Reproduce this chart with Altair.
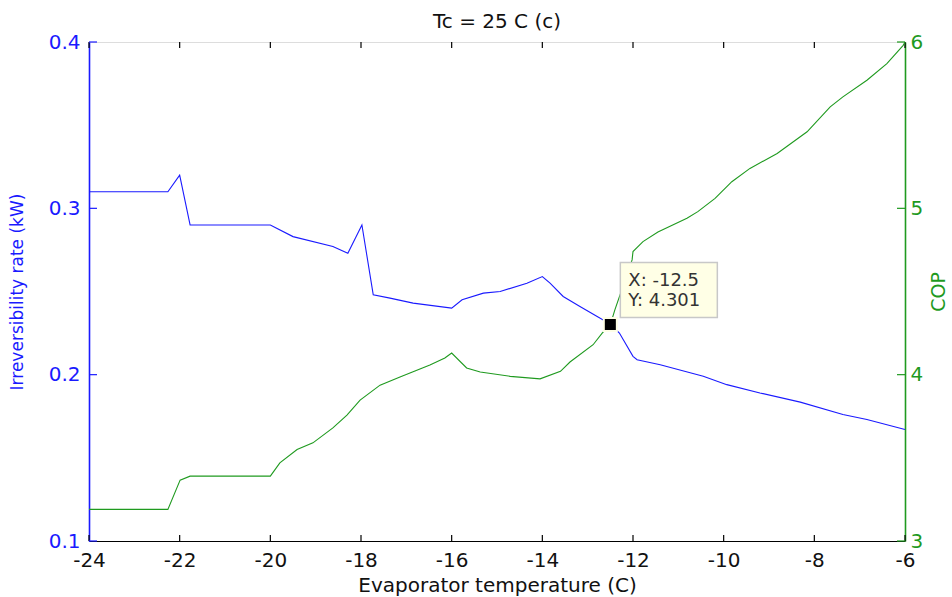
import altair as alt
import pandas as pd

# ---- data ----
blue_x = [-24.0, -22.26, -22.0, -21.77, -20.0, -19.5, -18.62, -18.29, -17.98, -17.73,
          -17.36, -16.85, -16.0, -15.77, -15.3, -14.93, -14.34, -14.0, -13.83, -13.54,
          -13.17, -12.79, -12.5, -12.3, -12.0, -11.91, -11.4, -10.45, -9.93, -9.2,
          -8.31, -7.37, -6.84, -6.0]
blue_y = [0.31, 0.31, 0.32, 0.29, 0.29, 0.283, 0.277, 0.273, 0.29, 0.248,
          0.246, 0.243, 0.24, 0.245, 0.249, 0.250, 0.255, 0.259, 0.255, 0.247,
          0.241, 0.235, 0.2304, 0.225, 0.211, 0.209, 0.206, 0.199, 0.194, 0.189,
          0.1835, 0.176, 0.173, 0.167]

green_x = [-24.0, -22.26, -21.99, -21.77, -20.0, -19.79, -19.41, -19.06, -18.62, -18.31,
           -18.02, -17.58, -17.14, -16.48, -16.15, -16.0, -15.67, -15.37, -14.71, -14.05,
           -13.6, -13.39, -12.88, -12.68, -12.5, -12.4, -12.02, -12.0, -11.78, -11.45,
           -10.81, -10.57, -10.19, -9.82, -9.42, -8.82, -8.16, -7.65, -7.37, -6.84,
           -6.4, -6.04, -6.0]
green_y = [3.19, 3.19, 3.366, 3.39, 3.39, 3.47, 3.55, 3.59, 3.68, 3.757,
           3.847, 3.937, 3.986, 4.058, 4.1, 4.13, 4.04, 4.016, 3.99, 3.975,
           4.02, 4.076, 4.18, 4.25, 4.301, 4.39, 4.69, 4.74, 4.8, 4.858,
           4.94, 4.98, 5.06, 5.16, 5.24, 5.33, 5.46, 5.61, 5.67, 5.77,
           5.87, 5.98, 6.0]

x_ticks = [-24, -22, -20, -18, -16, -14, -12, -10, -8, -6]
left_ticks = [0.1, 0.2, 0.3, 0.4]
right_ticks = [3, 4, 5, 6]

tip_x = [-12.5]
tip_y = [4.301]
tip_label_x = ["X: -12.5"]
tip_label_y = ["Y: 4.301"]

BLUE = "#1a1aff"
GREEN = "#1f9a1f"
FONT = "DejaVu Sans"
W, H = 816, 499

blue_df = pd.DataFrame({"T": blue_x, "I": blue_y})
green_df = pd.DataFrame({"T": green_x, "COP": green_y})
xt_df = pd.DataFrame({"T": x_ticks})
lt_df = pd.DataFrame({"I": left_ticks})
rt_df = pd.DataFrame({"COP": right_ticks})
tip_df = pd.DataFrame({"T": tip_x, "COP": tip_y, "lx": tip_label_x, "ly": tip_label_y})

xscale = alt.Scale(domain=[-24, -6], nice=False, zero=False)
lscale = alt.Scale(domain=[0.1, 0.4], nice=False, zero=False)
rscale = alt.Scale(domain=[3, 6], nice=False, zero=False)

x_axis = alt.Axis(title="Evaporator temperature (C)", values=x_ticks,
                  labelExpr="replace(datum.label, '\u2212', '-')",
                  tickSize=0, labelPadding=9, titlePadding=5,
                  grid=False, domainColor="black", domainWidth=1.2,
                  labelColor="#111111", labelFont=FONT, labelFontSize=20,
                  titleFont=FONT, titleFontSize=20, titleFontWeight="normal",
                  titleColor="#111111", labelFlush=False)

left_axis = alt.Axis(title="Irreversibility rate (kW)", values=left_ticks,
                     format=".1f", tickSize=0, labelPadding=9, titlePadding=22,
                     grid=False, domainColor=BLUE, domainWidth=1.6,
                     labelColor=BLUE, titleColor=BLUE, labelFont=FONT,
                     labelFontSize=20, titleFont=FONT, titleFontSize=17,
                     titleFontWeight="normal", labelFlush=False)

right_axis = alt.Axis(title="COP", orient="right", values=right_ticks,
                      tickSize=0, labelPadding=5, titlePadding=26, titleAngle=-90,
                      titleBaseline="bottom",
                      grid=False, domainColor=GREEN, domainWidth=1.6,
                      labelColor=GREEN, titleColor=GREEN, labelFont=FONT,
                      labelFontSize=20, titleFont=FONT, titleFontSize=19,
                      titleFontWeight="normal", labelFlush=False)

XE = alt.X("T:Q", scale=xscale, axis=x_axis)
YL = alt.Y("I:Q", scale=lscale, axis=left_axis)
YR = alt.Y("COP:Q", scale=rscale, axis=right_axis)

blue_line = alt.Chart(blue_df).mark_line(color=BLUE, strokeWidth=1.1).encode(x=XE, y=YL)

left_tick_marks = alt.Chart(lt_df).mark_rule(color=BLUE, strokeWidth=1.2).encode(
    y=YL, x=alt.value(0), x2=alt.value(8),
)

left = alt.layer(blue_line, left_tick_marks)

green_line = alt.Chart(green_df).mark_line(color=GREEN, strokeWidth=1.1).encode(x=XE, y=YR)

right_tick_marks = alt.Chart(rt_df).mark_rule(color=GREEN, strokeWidth=1.2).encode(
    y=YR, x=alt.value(W - 8), x2=alt.value(W),
)

tip_box = alt.Chart(tip_df).mark_rect(
    fill="#ffffe6", stroke="#c8c8c8", strokeWidth=1.5,
    xOffset=10, x2Offset=107, yOffset=-62, y2Offset=-7,
).encode(x=XE, x2="T:Q", y=YR, y2="COP:Q")

tip_marker = alt.Chart(tip_df).mark_square(
    size=170, color="black", fill="black", opacity=1, stroke="#ffffe6", strokeWidth=2,
).encode(x=XE, y=YR)

tip_text_x = alt.Chart(tip_df).mark_text(
    align="left", baseline="middle", dx=18, dy=-44, font=FONT, fontSize=18, color="#333333",
).encode(x=XE, y=YR, text="lx:N")

tip_text_y = alt.Chart(tip_df).mark_text(
    align="left", baseline="middle", dx=18, dy=-24, font=FONT, fontSize=18, color="#333333",
).encode(x=XE, y=YR, text="ly:N")

right = alt.layer(green_line, right_tick_marks, tip_box, tip_marker, tip_text_x, tip_text_y)

bottom_ticks = alt.Chart(xt_df).mark_rule(color="black", strokeWidth=1.2).encode(
    x=XE, y=alt.value(H - 6), y2=alt.value(H),
)
top_ticks = alt.Chart(xt_df).mark_rule(color="black", strokeWidth=1.2).encode(
    x=XE, y=alt.value(0), y2=alt.value(6),
)

chart = alt.layer(bottom_ticks, top_ticks, left, right).resolve_scale(
    y="independent"
).properties(
    width=W, height=H,
    title=alt.TitleParams("Tc = 25 C (c)", font=FONT, fontSize=20,
                          fontWeight="normal", color="#111111", offset=0,
                          anchor="middle"),
    autosize=alt.AutoSizeParams(type="none"),
    padding={"left": 89, "top": 42, "right": 47, "bottom": 56},
).configure_view(
    stroke="black", strokeWidth=1.2
).configure(background="white")

chart.save("out.html", embed_options={"renderer": "svg", "actions": False})
